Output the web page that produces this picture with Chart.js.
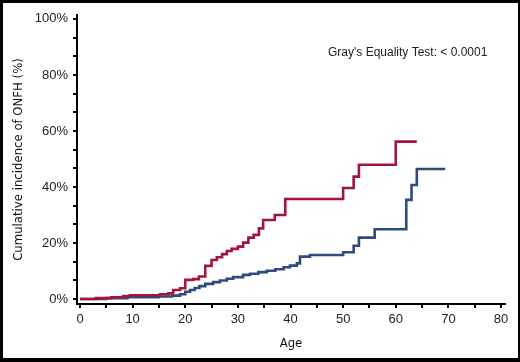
<!DOCTYPE html>
<html>
<head>
<meta charset="utf-8">
<script src="https://cdn.jsdelivr.net/npm/chart.js@4.4.0/dist/chart.umd.min.js"></script>
<style>
  html, body { margin: 0; padding: 0; background: #fff; }
  #wrap { width: 520px; height: 362px; }
</style>
</head>
<body>
<div id="wrap"><canvas id="onfh-chart" width="520" height="362"></canvas></div>
<script>
// ages and cumulative incidence (%)
const redAge = [0, 3, 6, 8.2, 9.5, 15.2, 16.8, 17.7, 19, 20, 21.5, 22.6, 23.8, 25, 26, 27, 27.9, 28.8, 30, 31, 32, 33, 34, 34.8, 37, 39, 50, 52, 53, 60, 64];
const redCif = [0, 0.3, 0.6, 1.0, 1.3, 1.7, 2.0, 3.2, 3.8, 6.8, 7.1, 8.0, 11.8, 13.9, 14.9, 16.0, 17.1, 17.9, 18.7, 20.1, 21.9, 22.9, 25.2, 28.2, 30.0, 35.7, 39.6, 43.7, 47.9, 56.2, 56.2];

const blueAge = [0, 5, 9, 15, 17.5, 19, 20, 20.9, 21.8, 22.7, 23.8, 25.3, 26.6, 27.9, 29.1, 31, 32.3, 33.9, 35.5, 37.1, 38.7, 39.9, 41.2, 41.8, 43.7, 50, 52, 53, 56, 62, 63, 64, 69.4];
const blueCif = [0, 0.3, 0.6, 0.9, 1.2, 1.7, 2.6, 3.2, 3.9, 4.6, 5.4, 6.0, 6.6, 7.2, 7.8, 8.6, 9.0, 9.6, 10.1, 10.6, 11.3, 11.9, 12.7, 15.1, 15.7, 16.7, 19.0, 21.9, 24.9, 35.4, 40.7, 46.4, 46.4];

const xTicks = [0, 5, 10, 15, 20, 25, 30, 35, 40, 45, 50, 55, 60, 65, 70, 75, 80];
const yTicks = [0, 20 / 3, 40 / 3, 20, 80 / 3, 100 / 3, 40, 140 / 3, 160 / 3, 60, 200 / 3, 220 / 3, 80, 260 / 3, 280 / 3, 100];
const testText = "Gray's Equality Test: < 0.0001";

const tickFont = { family: 'Liberation Sans, Arial, sans-serif', size: 13 };
const titleFont = { family: 'Liberation Sans Narrow, DejaVu Sans Condensed, Roboto Condensed, Liberation Sans, sans-serif', size: 13 };

const toPoints = (xs, ys) => xs.map((x, i) => ({ x: x, y: ys[i] }));

const framePlugin = {
    id: 'frame',
    beforeDraw(chart) {
        const ctx = chart.ctx;
        ctx.save();
        ctx.fillStyle = '#fff';
        ctx.fillRect(0, 0, chart.width, chart.height);
        ctx.restore();
    },
    afterDraw(chart) {
        const ctx = chart.ctx;
        ctx.save();
        ctx.fillStyle = '#000';
        ctx.fillRect(0, 0, chart.width, 3);
        ctx.fillRect(0, chart.height - 4, chart.width, 4);
        ctx.fillRect(0, 0, 3, chart.height);
        ctx.fillRect(chart.width - 2, 0, 2, chart.height);
        // test result text
        ctx.fillStyle = '#222';
        ctx.font = '12px ' + tickFont.family;
        ctx.textBaseline = 'middle';
        ctx.textAlign = 'left';
        ctx.fillText(testText, 328, 53);
        ctx.restore();
    }
};

new Chart(document.getElementById('onfh-chart'), {
    type: 'line',
    data: {
        datasets: [
            {
                label: 'red',
                data: toPoints(redAge, redCif),
                borderColor: '#a3163c',
                borderWidth: 2.6,
                stepped: 'before',
                pointRadius: 0,
                fill: false,
            },
            {
                label: 'blue',
                data: toPoints(blueAge, blueCif),
                borderColor: '#2f4a7c',
                borderWidth: 2.6,
                stepped: 'before',
                pointRadius: 0,
                fill: false,
            },
        ],
    },
    options: {
        responsive: false,
        animation: false,
        layout: { padding: { left: 0, right: 15, top: 15, bottom: 0 } },
        plugins: { legend: { display: false }, tooltip: { enabled: false } },
        scales: {
            x: {
                type: 'linear',
                min: -0.57,
                max: 80.76,
                afterBuildTicks: (scale) => { scale.ticks = xTicks.map(v => ({ value: v })); },
                afterFit: (scale) => { scale.height = 58; },
                ticks: {
                    autoSkip: false,
                    maxRotation: 0,
                    padding: 4,
                    color: '#222',
                    font: tickFont,
                    callback: (v) => (v % 10 === 0 ? String(v) : ''),
                },
                grid: { drawOnChartArea: false, drawTicks: true, tickLength: 4, color: '#000', lineWidth: 2 },
                border: { color: '#000', width: 2 },
                title: { display: true, text: 'Age', color: '#111', font: titleFont, padding: 11 },
            },
            y: {
                type: 'linear',
                min: -1.8,
                max: 101.4,
                afterBuildTicks: (scale) => { scale.ticks = yTicks.map(v => ({ value: v })); },
                afterFit: (scale) => { scale.width = 77; },
                ticks: {
                    autoSkip: false,
                    padding: 5,
                    color: '#222',
                    font: tickFont,
                    callback: (v) => {
                        const r = Math.round(v);
                        return Math.abs(v - r) < 0.01 && r % 20 === 0 ? r + '%' : '';
                    },
                },
                grid: { drawOnChartArea: false, drawTicks: true, tickLength: 4, color: '#000', lineWidth: 2 },
                border: { color: '#000', width: 2 },
                title: { display: true, text: 'Cumulative incidence of ONFH (%)', color: '#111', font: titleFont, padding: 11 },
            },
        },
    },
    plugins: [framePlugin],
});
</script>
</body>
</html>
